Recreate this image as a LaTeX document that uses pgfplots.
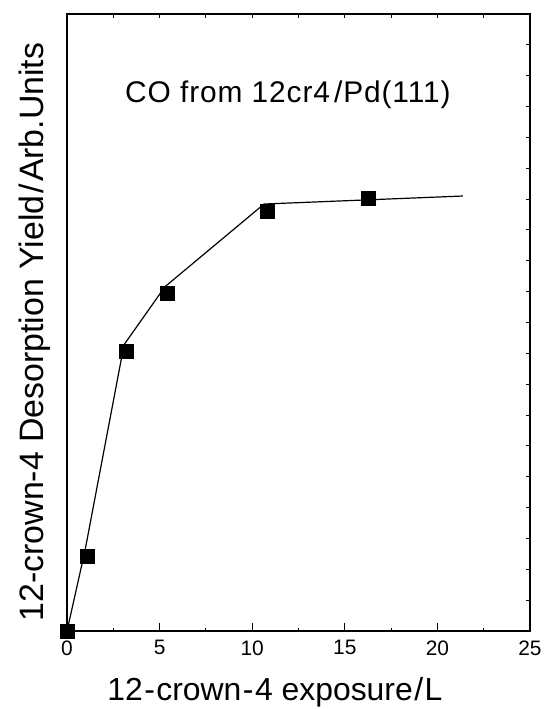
\documentclass[border=0pt]{standalone}
\usepackage{pgfplots}
\pgfplotsset{compat=1.18}
\usepackage{fontspec}
\setmainfont{Liberation Sans}
\begin{document}
\begin{tikzpicture}
\path[use as bounding box] (-67bp,-78bp) rectangle (478bp,631bp);
\begin{axis}[
  at={(0,0)}, anchor=south west,
  scale only axis, width=463bp, height=617bp,
  xmin=0, xmax=25, ymin=0, ymax=1,
  axis line style={line width=1.4bp},
  xtick={0,5,10,15,20,25},
  minor xtick={2.5,7.5,12.5,17.5,22.5},
  xtick pos=bottom, ytick=\empty,
  tick align=inside,
  major tick length=8bp, minor tick length=3bp,
  tick style={line width=1.2bp, black},
  xticklabel style={font=\fontsize{21}{24}\selectfont, yshift=-6bp},
  /pgf/number format/assume math mode=true,
  clip=false,
]
\addplot[black, line width=1.2bp] coordinates {
  (0,0) (0.97,0.130) (3.08,0.464) (5.29,0.558) (10.64,0.692) (21.37,0.705)
};
\addplot[only marks, mark=square*, mark size=7bp, black] coordinates {
  (0,0) (1.1,0.122) (3.22,0.454) (5.42,0.547) (10.8,0.680) (16.25,0.702)
};
\node[font=\fontsize{30}{34}\selectfont\addfontfeature{LetterSpace=3}, anchor=base] at (axis description cs:0.477,0.8558) {CO from 12cr4\kern4bp/Pd(111)};
\node[font=\fontsize{32}{36}\selectfont, anchor=base] at (axis description cs:0.449,-0.112) {12\kern1.5bp-\kern1.5bp crown\kern1.5bp-\kern1.5bp 4 exposure\kern1.5bp/\kern1.5bp L};
\node[font=\fontsize{34}{38}\selectfont, rotate=90, anchor=base] at (axis description cs:-0.0518,0.4846) {12-crown-4 Desorption Yield\kern2bp/\kern2bp Arb.Units};
\end{axis}
\begin{axis}[
  at={(0,0)}, anchor=south west,
  scale only axis, width=463bp, height=617bp,
  xmin=0, xmax=25, ymin=0, ymax=1,
  axis line style={line width=1.4bp},
  xtick={0,2.5,...,25}, xtick pos=top,
  ytick={0,0.05,...,1}, ytick pos=right,
  xticklabels={}, yticklabels={},
  tick align=inside, major tick length=4bp,
  tick style={line width=1bp, black},
]
\end{axis}
\end{tikzpicture}
\end{document}
